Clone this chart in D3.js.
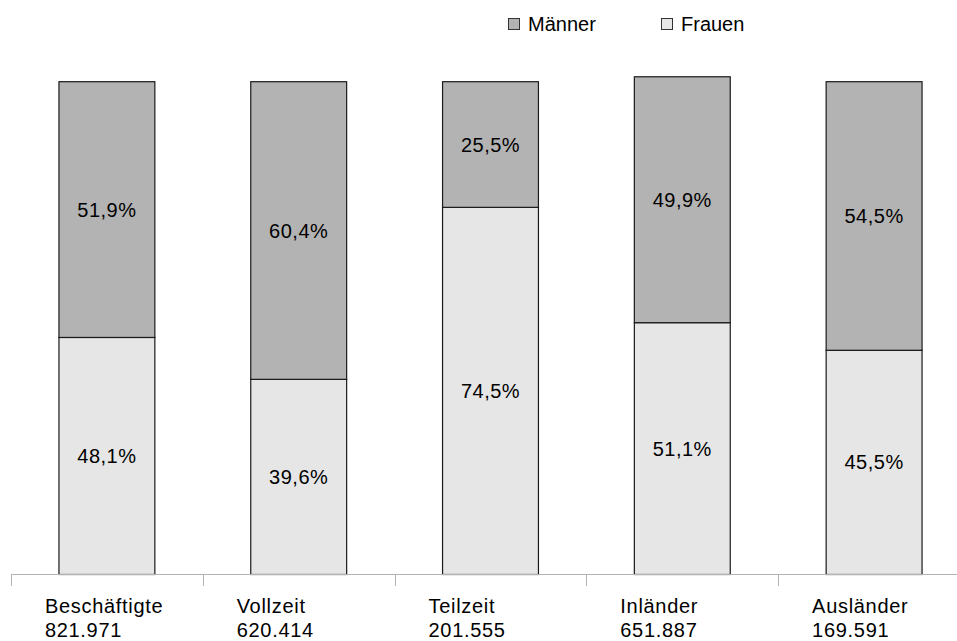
<!DOCTYPE html>
<html>
<head>
<meta charset="utf-8">
<script src="https://cdn.jsdelivr.net/npm/d3@7"></script>
<style>
  html, body { margin: 0; padding: 0; background: #fff; }
  svg { display: block; font-family: "Liberation Sans", Arial, sans-serif; }
</style>
</head>
<body>
<svg id="chart" width="957" height="641"></svg>
<script>
// Beschäftigte nach Geschlecht (Anteile in %)
const categories = ["Beschäftigte", "Vollzeit", "Teilzeit", "Inländer", "Ausländer"];
const totals = ["821.971", "620.414", "201.555", "651.887", "169.591"];
const frauen = [48.1, 39.6, 74.5, 51.1, 45.5];
const maenner = [51.9, 60.4, 25.5, 49.9, 54.5];
const seriesNames = ["Männer", "Frauen"];
const seriesColors = { "Männer": "#b3b3b3", "Frauen": "#e6e6e6" };

const svg = d3.select("#chart");
const fmt = v => d3.format(".1f")(v).replace(".", ",") + "%";

const x = d3.scaleBand().domain(categories).range([11, 970]).padding(0);
const y = d3.scaleLinear().domain([0, 100]).range([574.5, 81.7]);

const rows = categories.map((c, i) => ({ cat: c, total: totals[i], Frauen: frauen[i], "Männer": maenner[i] }));
// Frauen at the bottom, Männer stacked on top
const stack = d3.stack().keys(["Frauen", "Männer"])(rows);

const barW = x.bandwidth() / 2;

const g = svg.append("g");
stack.forEach(layer => {
  const key = layer.key;
  g.selectAll(null).data(layer).enter().append("rect")
    .attr("x", d => x(d.data.cat) + x.bandwidth() / 4)
    .attr("y", d => y(d[1]))
    .attr("width", barW)
    .attr("height", d => y(d[0]) - y(d[1]))
    .attr("fill", seriesColors[key])
    .attr("stroke", "#1a1a1a")
    .attr("stroke-width", 1.2);

  g.selectAll(null).data(layer).enter().append("text")
    .attr("x", d => x(d.data.cat) + x.bandwidth() / 2)
    .attr("y", d => (y(d[0]) + y(d[1])) / 2 + 7)
    .attr("text-anchor", "middle")
    .attr("font-size", 20)
    .attr("letter-spacing", 0.5)
    .attr("fill", "#000")
    .text(d => fmt(d.data[key]));
});

// category axis
const axis = svg.append("g");
axis.append("line")
  .attr("x1", 11).attr("x2", 957)
  .attr("y1", 574.5).attr("y2", 574.5)
  .attr("stroke", "#b3b3b3").attr("stroke-width", 1);
axis.selectAll(".tick").data(categories).enter().append("line")
  .attr("x1", d => Math.round(x(d)) + 0.5).attr("x2", d => Math.round(x(d)) + 0.5)
  .attr("y1", 574.5).attr("y2", 586)
  .attr("stroke", "#b3b3b3").attr("stroke-width", 1);

const labels = axis.selectAll(".lab").data(rows).enter().append("text")
  .attr("font-size", 20)
  .attr("letter-spacing", 0.7)
  .attr("fill", "#000");
labels.append("tspan")
  .attr("x", d => x(d.cat) + x.bandwidth() / 2 - 62)
  .attr("y", 613)
  .text(d => d.cat);
labels.append("tspan")
  .attr("x", d => x(d.cat) + x.bandwidth() / 2 - 62)
  .attr("y", 636.5)
  .text(d => d.total);

// legend
const legendX = d3.scalePoint().domain(seriesNames).range([508, 661]);
const leg = svg.append("g");
seriesNames.forEach(name => {
  leg.append("rect")
    .attr("x", legendX(name) + 0.5).attr("y", 18.5)
    .attr("width", 11).attr("height", 11)
    .attr("fill", seriesColors[name])
    .attr("stroke", "#333").attr("stroke-width", 1);
  leg.append("text")
    .attr("x", legendX(name) + 20)
    .attr("y", 31)
    .attr("font-size", 20)
    .attr("fill", "#000")
    .text(name);
});
</script>
</body>
</html>
